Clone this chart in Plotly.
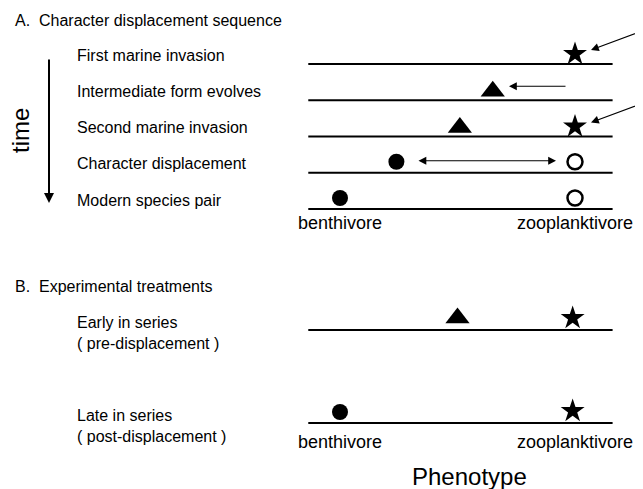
import plotly.graph_objects as go

# ---------------- data ----------------
stages_A = ["First marine invasion", "Intermediate form evolves",
            "Second marine invasion", "Character displacement",
            "Modern species pair"]
# phenotype scale: 0 = benthivore, 1 = zooplanktivore
star_A_stage = [0, 2]
star_A_pheno = [1.0, 1.0]
tri_A_stage = [1, 2]
tri_A_pheno = [0.65, 0.51]
benthic_A_stage = [3, 4]
benthic_A_pheno = [0.24, 0.0]
limnetic_A_stage = [3, 4]
limnetic_A_pheno = [1.0, 1.0]

treat_B = ["Early in series", "Late in series"]
treat_B_sub = ["( pre-displacement )", "( post-displacement )"]
tri_B_stage = [0]
tri_B_pheno = [0.50]
star_B_stage = [0, 1]
star_B_pheno = [0.99, 0.99]
benthic_B_stage = [1]
benthic_B_pheno = [0.0]

end_labels = ["benthivore", "zooplanktivore"]
end_values = [0.0, 1.0]

# ---------------- layout constants ----------------
W, H = 643, 489
OFF = 8                              # default page margin of the html body
FW, FH = W - OFF, H - OFF
P0_PX, P1_PX = 340, 575              # page pixel position of phenotype 0 and 1
SPAN = P1_PX - P0_PX
AXIS_MIN, AXIS_MAX = -0.135, 1.16    # extent of the baseline lines
A_TOP, A_STEP = 64, 36.25
B_LINES = [330, 423]
FONT = "Liberation Sans, Arial, sans-serif"


def rowA(i):
    return A_TOP + A_STEP * i


def px2p(px):
    return (px - P0_PX) / SPAN


XR = [px2p(OFF), px2p(W)]

fig = go.Figure()

# baselines
for i in range(len(stages_A)):
    fig.add_shape(type="line", x0=AXIS_MIN, x1=AXIS_MAX, y0=rowA(i), y1=rowA(i),
                  xref="x", yref="y", line=dict(color="black", width=2))
for yb in B_LINES:
    fig.add_shape(type="line", x0=AXIS_MIN, x1=AXIS_MAX, y0=yb, y1=yb,
                  xref="x", yref="y", line=dict(color="black", width=2))


def add_marks(xs, ys, symbol, size, open_=False):
    fig.add_trace(go.Scatter(
        x=xs, y=ys, mode="markers", hoverinfo="skip", showlegend=False,
        cliponaxis=False,
        marker=dict(symbol=symbol, size=size,
                    color="white" if open_ else "black",
                    line=dict(color="black", width=2.5 if open_ else 0))))


# panel A markers
add_marks(star_A_pheno, [rowA(s) - 10 for s in star_A_stage], "star", 18)
add_marks(tri_A_pheno, [rowA(s) - 9 for s in tri_A_stage], "triangle-up", 21)
add_marks(benthic_A_pheno, [rowA(s) - 11 for s in benthic_A_stage], "circle", 16)
add_marks(limnetic_A_pheno, [rowA(s) - 11 for s in limnetic_A_stage], "circle", 15, open_=True)

# panel B markers
add_marks(tri_B_pheno, [B_LINES[s] - 12 for s in tri_B_stage], "triangle-up", 21)
add_marks(star_B_pheno, [B_LINES[s] - 12 for s in star_B_stage], "star", 18)
add_marks(benthic_B_pheno, [B_LINES[s] - 11 for s in benthic_B_stage], "circle", 16)

ann = []


def text(x_px, y, s, size=16, xanchor="left", angle=0):
    ann.append(dict(x=(x_px - OFF) / FW, xref="paper", y=y, yref="y", text=s,
                    showarrow=False, xanchor=xanchor, yanchor="middle",
                    textangle=angle,
                    font=dict(family=FONT, size=size, color="black")))


def arrow(x_tail, y_tail, x_head, y_head, both=False):
    ann.append(dict(x=x_head, y=y_head, xref="x", yref="y",
                    ax=x_tail, ay=y_tail, axref="x", ayref="y",
                    text="", showarrow=True, arrowhead=2, arrowsize=1.3,
                    arrowwidth=1.2, arrowcolor="black",
                    startarrowhead=2, startarrowsize=1.3,
                    arrowside="end+start" if both else "end"))


# titles and row labels
text(13, 20, "A.\u00a0 Character displacement sequence")
for i, s in enumerate(stages_A):
    text(75, rowA(i) - 9, s)
text(13, 286, "B.\u00a0 Experimental treatments")
for yb, s1, s2 in zip(B_LINES, treat_B, treat_B_sub):
    text(75, yb - 8, s1)
    text(75, yb + 13, s2)

# time axis
text(20, 131, "time", size=24, xanchor="center", angle=-90)
ann.append(dict(x=px2p(49), y=203, xref="x", yref="y",
                ax=px2p(49), ay=58, axref="x", ayref="y", text="",
                showarrow=True, arrowhead=2, arrowsize=1, arrowwidth=2,
                arrowcolor="black"))

# invasion arrows (from the sea, off to the right) pointing at the stars
for s in star_A_stage:
    arrow(px2p(650), rowA(s) - 36, px2p(591), rowA(s) - 14)
# intermediate form evolves arrow
arrow(px2p(567), rowA(1) - 14, px2p(509), rowA(1) - 14)
# character displacement double arrow
arrow(px2p(417), rowA(3) - 12, px2p(556), rowA(3) - 12, both=True)

# end labels
for yb in [rowA(4) + 14, B_LINES[1] + 19]:
    for lab, v in zip(end_labels, end_values):
        ann.append(dict(x=v, xref="x", y=yb, yref="y", text=lab,
                        showarrow=False, xanchor="center", yanchor="middle",
                        font=dict(family=FONT, size=18, color="black")))
ann.append(dict(x=0.55, xref="x", y=476, yref="y", text="Phenotype",
                showarrow=False, xanchor="center", yanchor="middle",
                font=dict(family=FONT, size=24, color="black")))

fig.update_layout(
    width=FW, height=FH, margin=dict(l=0, r=0, t=0, b=0),
    paper_bgcolor="white", plot_bgcolor="white",
    xaxis=dict(range=XR, visible=False, fixedrange=True),
    yaxis=dict(range=[H, OFF], visible=False, fixedrange=True),
    annotations=ann, showlegend=False,
)
fig.write_html("out.html")
